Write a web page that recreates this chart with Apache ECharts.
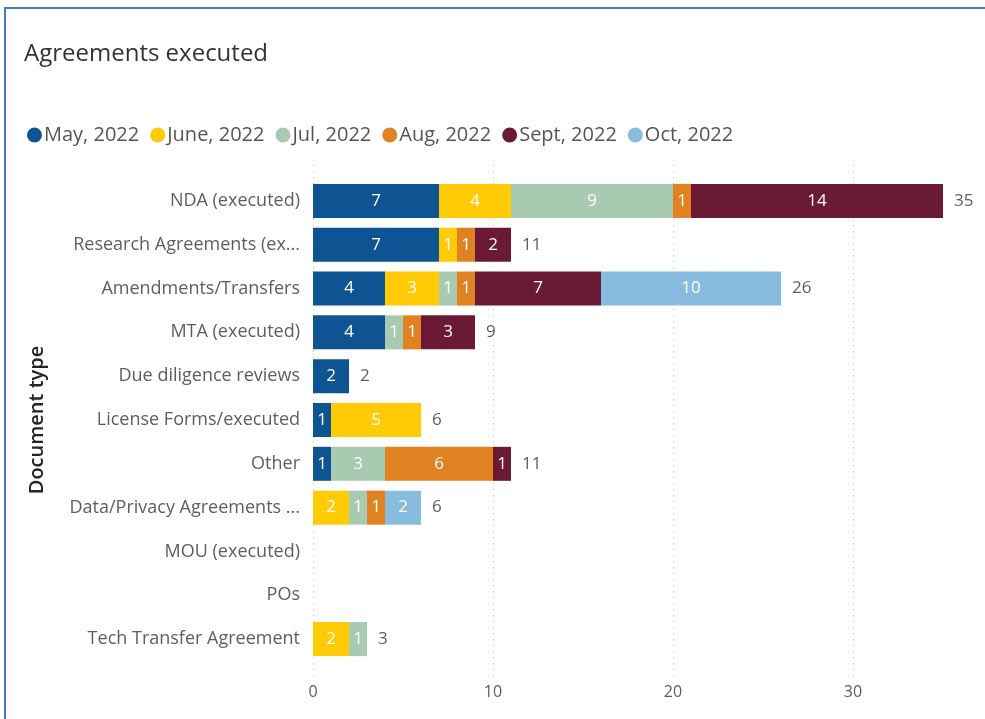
<!DOCTYPE html>
<html>
<head>
<meta charset="utf-8">
<script src="https://cdn.jsdelivr.net/npm/echarts@6/dist/echarts.min.js"></script>
<style>
  html, body { margin: 0; padding: 0; background: #fff; }
  #frame { position: absolute; left: 4px; top: 7px; width: 990px; height: 720px;
           border-top: 2px solid #4a78c8; border-left: 2px solid #4a78c8; }
  #chart { position: absolute; left: 0; top: 0; width: 985px; height: 719px; }
</style>
</head>
<body>
<div id="frame"></div>
<div id="chart"></div>
<script>
// categories, top to bottom
const docTypes = [
  'NDA (executed)',
  'Research Agreements (executed)',
  'Amendments/Transfers',
  'MTA (executed)',
  'Due diligence reviews',
  'License Forms/executed',
  'Other',
  'Data/Privacy Agreements (executed)',
  'MOU (executed)',
  'POs',
  'Tech Transfer Agreement'
];
const months = ['May, 2022', 'June, 2022', 'Jul, 2022', 'Aug, 2022', 'Sept, 2022', 'Oct, 2022'];
const monthColors = ['#0E5493', '#FFCB05', '#A8CAB0', '#E08122', '#6B1A36', '#88BCDF'];

// counts per month, same order as docTypes (0 = none)
const may  = [7, 7, 4, 4, 2, 1, 1, 0, 0, 0, 0];
const june = [4, 1, 3, 0, 0, 5, 0, 2, 0, 0, 2];
const jul  = [9, 0, 1, 1, 0, 0, 3, 1, 0, 0, 1];
const aug  = [1, 1, 1, 1, 0, 0, 6, 1, 0, 0, 0];
const sept = [14, 2, 7, 3, 0, 0, 1, 0, 0, 0, 0];
const oct  = [0, 0, 10, 0, 0, 0, 0, 2, 0, 0, 0];

const xTicks = [0, 10, 20, 30];

const monthData = [may, june, jul, aug, sept, oct];
const totals = docTypes.map((d, i) => monthData.reduce((s, arr) => s + arr[i], 0));

const FONT = 'Open Sans';

const series = months.map((m, k) => ({
  name: m,
  type: 'bar',
  stack: 'all',
  xAxisIndex: 0,
  yAxisIndex: 0,
  barWidth: 34,
  itemStyle: { color: monthColors[k] },
  label: {
    show: true,
    position: 'inside',
    color: '#fff',
    fontFamily: FONT,
    fontSize: 17,
    formatter: p => (p.value ? p.value : '')
  },
  data: monthData[k].map(v => (v ? v : '-'))
}));

// total labels at the end of each stack
series.push({
  name: 'Total',
  type: 'bar',
  stack: 'all',
  xAxisIndex: 0,
  yAxisIndex: 0,
  barWidth: 34,
  itemStyle: { color: 'transparent' },
  label: {
    show: true,
    position: 'right',
    distance: 11,
    color: '#605E5C',
    fontFamily: FONT,
    fontSize: 17,
    formatter: p => (totals[p.dataIndex] ? totals[p.dataIndex] : '')
  },
  tooltip: { show: false },
  data: totals.map(() => 0)
});

const option = {
  animation: false,
  title: {
    text: 'Agreements executed',
    left: 19,
    top: 37,
    textStyle: { fontFamily: FONT, fontSize: 24, fontWeight: 'normal', color: '#333' }
  },
  legend: {
    data: months,
    left: 22,
    top: 120,
    icon: 'circle',
    itemWidth: 15,
    itemHeight: 15,
    itemGap: 11,
    textStyle: { fontFamily: FONT, fontSize: 20, color: '#555', padding: [0, 0, 0, -3] }
  },
  grid: [
    { left: 313, top: 179, height: 482, width: 720, outerBoundsMode: 'none' },
    { left: 313, top: 165, height: 515, width: 720, outerBoundsMode: 'none' }
  ],
  xAxis: [
    {
      gridIndex: 0, type: 'value', min: 0, max: 40, interval: 10,
      axisLabel: { show: false }, axisLine: { show: false }, axisTick: { show: false },
      splitLine: { show: false }
    },
    {
      gridIndex: 1, type: 'value', min: 0, max: 40, interval: 10,
      axisLabel: {
        color: '#605E5C', fontFamily: FONT, fontSize: 16, margin: 4,
        formatter: v => (xTicks.indexOf(v) >= 0 ? v : '')
      },
      axisLine: { show: false }, axisTick: { show: false },
      splitLine: { show: true, lineStyle: { color: '#C8C8C8', type: [1, 5], width: 1 } }
    }
  ],
  yAxis: [
    {
      gridIndex: 0,
      type: 'category',
      inverse: true,
      data: docTypes,
      axisLine: { show: false },
      axisTick: { show: false },
      axisLabel: {
        color: '#605E5C', fontFamily: FONT, fontSize: 18, margin: 13,
        width: 234, overflow: 'truncate', ellipsis: '...'
      },
      name: 'Document type',
      nameLocation: 'middle',
      nameGap: 266,
      nameRotate: 90,
      nameTextStyle: { color: '#252423', fontFamily: FONT, fontSize: 20, fontWeight: 600 }
    },
    {
      gridIndex: 1, type: 'value', show: false, min: 0, max: 1
    }
  ],
  series: series
};

const chart = echarts.init(document.getElementById('chart'));
chart.setOption(option);
</script>
</body>
</html>
